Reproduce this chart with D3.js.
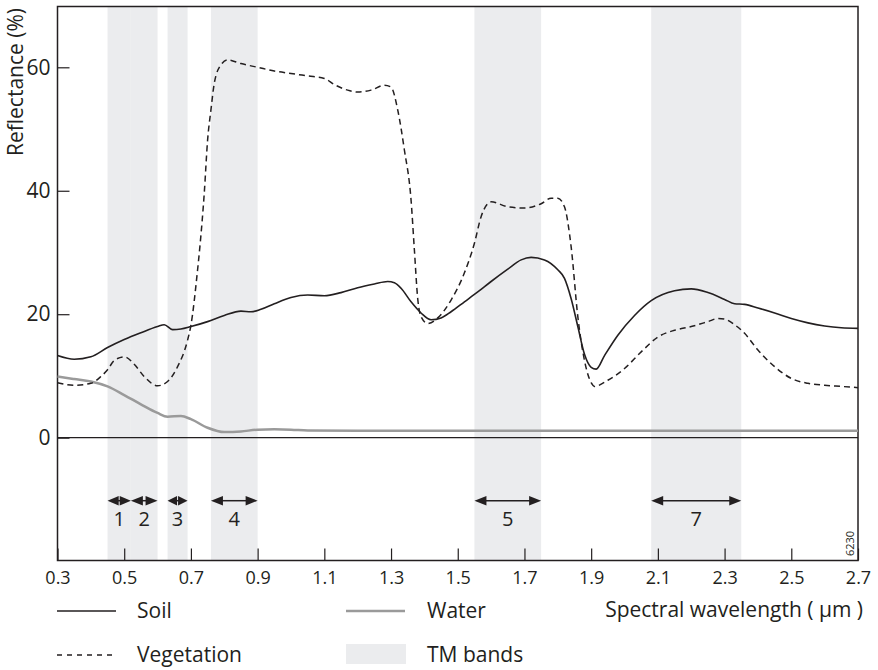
<!DOCTYPE html>
<html>
<head>
<meta charset="utf-8">
<script src="https://cdn.jsdelivr.net/npm/d3@7"></script>
<style>
  body { margin: 0; background: #fff; }
  svg { display: block; }
  text { font-family: "Open Sans", "Noto Sans", sans-serif; fill: #231f20; }
</style>
</head>
<body>
<svg id="chart" width="878" height="670"></svg>
<script>
// ---------- data ----------
const xTicks = [0.3, 0.5, 0.7, 0.9, 1.1, 1.3, 1.5, 1.7, 1.9, 2.1, 2.3, 2.5, 2.7];
const yTicks = [0, 20, 40, 60];

const soilWl   = [0.30,0.35,0.40,0.45,0.50,0.55,0.60,0.62,0.645,0.67,0.70,0.75,0.80,0.85,0.88,0.91,0.95,1.00,1.05,1.10,1.15,1.20,1.25,1.29,1.31,1.33,1.36,1.39,1.42,1.45,1.48,1.52,1.56,1.60,1.65,1.69,1.72,1.76,1.80,1.82,1.84,1.86,1.88,1.90,1.915,1.94,1.98,2.03,2.08,2.15,2.20,2.25,2.30,2.33,2.36,2.40,2.45,2.50,2.55,2.60,2.65,2.70];
const soilRefl = [13.3,12.7,13.1,14.6,15.9,17.0,18.0,18.3,17.5,17.6,18.0,18.8,19.8,20.5,20.4,20.8,21.7,22.7,23.1,23.0,23.5,24.3,24.9,25.3,25.1,24.2,22.0,20.2,19.1,19.4,20.4,22.0,23.6,25.3,27.3,28.8,29.2,28.8,27.2,25.8,22.5,18.0,13.5,11.4,11.1,13.3,16.6,19.8,22.2,23.8,24.1,23.5,22.4,21.7,21.6,21.0,20.2,19.3,18.6,18.1,17.8,17.7];

const vegWl   = [0.30,0.35,0.40,0.43,0.45,0.47,0.50,0.53,0.56,0.60,0.63,0.66,0.69,0.70,0.72,0.727,0.74,0.75,0.76,0.77,0.79,0.81,0.85,0.90,0.95,1.00,1.05,1.10,1.13,1.17,1.20,1.24,1.28,1.30,1.32,1.34,1.36,1.37,1.38,1.39,1.41,1.44,1.48,1.52,1.55,1.57,1.60,1.65,1.70,1.75,1.78,1.80,1.82,1.84,1.86,1.88,1.90,1.91,1.95,2.00,2.05,2.10,2.15,2.20,2.25,2.28,2.30,2.33,2.36,2.40,2.45,2.50,2.55,2.60,2.65,2.70];
const vegRefl = [8.9,8.5,8.8,9.9,11.0,12.5,13.1,11.9,9.9,8.4,9.1,11.5,15.8,18.2,27.2,31.0,39.6,48.2,53.1,57.4,60.4,61.2,60.6,60.0,59.4,59.0,58.6,58.2,57.2,56.3,56.0,56.3,57.1,56.8,53.1,46.6,38.5,30.4,22.5,19.6,18.5,19.4,22.3,26.7,31.5,35.8,38.2,37.4,37.2,37.9,38.8,38.8,37.4,30.9,19.6,12.5,8.9,8.3,9.3,11.2,13.9,16.3,17.4,18.0,18.8,19.3,19.2,18.3,16.9,14.2,11.5,9.6,8.8,8.5,8.3,8.1];

const waterWl   = [0.30,0.35,0.40,0.45,0.50,0.55,0.60,0.63,0.67,0.70,0.75,0.80,0.85,0.90,0.95,1.00,1.05,1.20,1.60,2.00,2.70];
const waterRefl = [9.9,9.5,9.1,8.3,6.9,5.4,4.0,3.4,3.5,3.0,1.6,0.9,1.0,1.3,1.35,1.3,1.15,1.1,1.1,1.1,1.1];

const bandIds  = ["1", "2", "3", "4", "5", "7"];
const bandLow  = [0.45, 0.52, 0.63, 0.76, 1.55, 2.08];
const bandHigh = [0.52, 0.60, 0.69, 0.90, 1.75, 2.35];

const legendLabels = ["Soil", "Water", "Vegetation", "TM bands"];

// ---------- scales ----------
const svg = d3.select("#chart");
const yMin = -19.9, yMax = 69.85;
const x = d3.scaleLinear().domain([0.3, 2.7]).range([57.5, 858]);
const y = d3.scaleLinear().domain([yMin, yMax]).range([560.5, 6.5]);
const ink = "#231f20";

// ---------- TM band shading ----------
const bands = bandIds.map((id, i) => ({ id, lo: bandLow[i], hi: bandHigh[i] }));
svg.append("g").selectAll("rect").data(bands).join("rect")
  .attr("x", d => x(d.lo))
  .attr("width", d => x(d.hi) - x(d.lo))
  .attr("y", y(yMax))
  .attr("height", y(yMin) - y(yMax))
  .attr("fill", "#ebecee");

// ---------- axes ----------
const xAxis = d3.axisBottom(x).tickValues(xTicks).tickFormat(d3.format(".1f"))
  .tickSize(-12).tickPadding(11);
const gx = svg.append("g").attr("transform", `translate(0,${y(yMin)})`).call(xAxis);
gx.select(".domain").remove();
gx.selectAll(".tick line").attr("stroke", ink).attr("stroke-width", 1.2);
gx.selectAll(".tick text").attr("font-size", 18).attr("font-family", "Open Sans, sans-serif").attr("fill", ink);

const yAxis = d3.axisLeft(y).tickValues(yTicks).tickFormat(d3.format("d"))
  .tickSize(-12).tickPadding(7);
const gy = svg.append("g").attr("transform", `translate(${x(0.3)},0)`).call(yAxis);
gy.select(".domain").remove();
gy.selectAll(".tick line").attr("stroke", ink).attr("stroke-width", 1.2);
gy.selectAll(".tick text").attr("font-size", 21).attr("font-family", "Open Sans, sans-serif").attr("fill", ink);

// frame
svg.append("rect")
  .attr("x", x(0.3)).attr("y", y(yMax))
  .attr("width", x(2.7) - x(0.3)).attr("height", y(yMin) - y(yMax))
  .attr("fill", "none").attr("stroke", ink).attr("stroke-width", 1.5);

// zero line
svg.append("line")
  .attr("x1", x(0.3)).attr("x2", x(2.7))
  .attr("y1", y(0)).attr("y2", y(0))
  .attr("stroke", ink).attr("stroke-width", 1.3);

// ---------- curves ----------
const line = d3.line().x(d => x(d[0])).y(d => y(d[1])).curve(d3.curveMonotoneX);
const zip = (a, b) => a.map((v, i) => [v, b[i]]);

svg.append("path").datum(zip(waterWl, waterRefl))
  .attr("d", line).attr("fill", "none")
  .attr("stroke", "#9a9a9a").attr("stroke-width", 2.5);

svg.append("path").datum(zip(vegWl, vegRefl))
  .attr("d", line).attr("fill", "none")
  .attr("stroke", ink).attr("stroke-width", 1.5).attr("stroke-dasharray", "6,4");

svg.append("path").datum(zip(soilWl, soilRefl))
  .attr("d", line).attr("fill", "none")
  .attr("stroke", ink).attr("stroke-width", 1.6);

// ---------- band arrows ----------
const arrowY = 500.7;
const ga = svg.append("g");
bands.forEach(b => {
  const x0 = x(b.lo), x1 = x(b.hi);
  const len = x1 - x0;
  const h = Math.min(12, len / 2 - 0.5);
  const hw = 4.8;
  ga.append("line").attr("x1", x0 + h - 1).attr("x2", x1 - h + 1)
    .attr("y1", arrowY).attr("y2", arrowY)
    .attr("stroke", ink).attr("stroke-width", 1.5);
  ga.append("path")
    .attr("d", `M${x0},${arrowY} L${x0 + h},${arrowY - hw} L${x0 + h},${arrowY + hw} Z`)
    .attr("fill", ink);
  ga.append("path")
    .attr("d", `M${x1},${arrowY} L${x1 - h},${arrowY - hw} L${x1 - h},${arrowY + hw} Z`)
    .attr("fill", ink);
  ga.append("text")
    .attr("x", x((b.lo + b.hi) / 2)).attr("y", 526)
    .attr("text-anchor", "middle").attr("font-size", 20)
    .text(b.id);
});

// ---------- axis titles ----------
svg.append("text")
  .attr("transform", "translate(23,8) rotate(-90)")
  .attr("text-anchor", "end").attr("font-size", 21)
  .text("Reflectance (%)");

svg.append("text")
  .attr("x", 863).attr("y", 617)
  .attr("text-anchor", "end").attr("font-size", 21)
  .text("Spectral wavelength ( \u03bcm )");

svg.append("text")
  .attr("transform", "translate(853.5,556) rotate(-90)")
  .attr("font-size", 11)
  .text("6230");

// ---------- legend ----------
const lg = svg.append("g");
lg.append("line").attr("x1", 57).attr("x2", 116).attr("y1", 611).attr("y2", 611)
  .attr("stroke", ink).attr("stroke-width", 1.6);
lg.append("text").attr("x", 137).attr("y", 618).attr("font-size", 21).text(legendLabels[0]);

lg.append("line").attr("x1", 346).attr("x2", 405).attr("y1", 611).attr("y2", 611)
  .attr("stroke", "#9a9a9a").attr("stroke-width", 2.5);
lg.append("text").attr("x", 427).attr("y", 618).attr("font-size", 21).text(legendLabels[1]);

lg.append("line").attr("x1", 57).attr("x2", 116).attr("y1", 655).attr("y2", 655)
  .attr("stroke", ink).attr("stroke-width", 1.5).attr("stroke-dasharray", "5,5");
lg.append("text").attr("x", 137).attr("y", 662).attr("font-size", 21).text(legendLabels[2]);

lg.append("rect").attr("x", 346).attr("y", 644).attr("width", 60).attr("height", 20)
  .attr("fill", "#ebecee");
lg.append("text").attr("x", 427).attr("y", 662).attr("font-size", 21).text(legendLabels[3]);
</script>
</body>
</html>
